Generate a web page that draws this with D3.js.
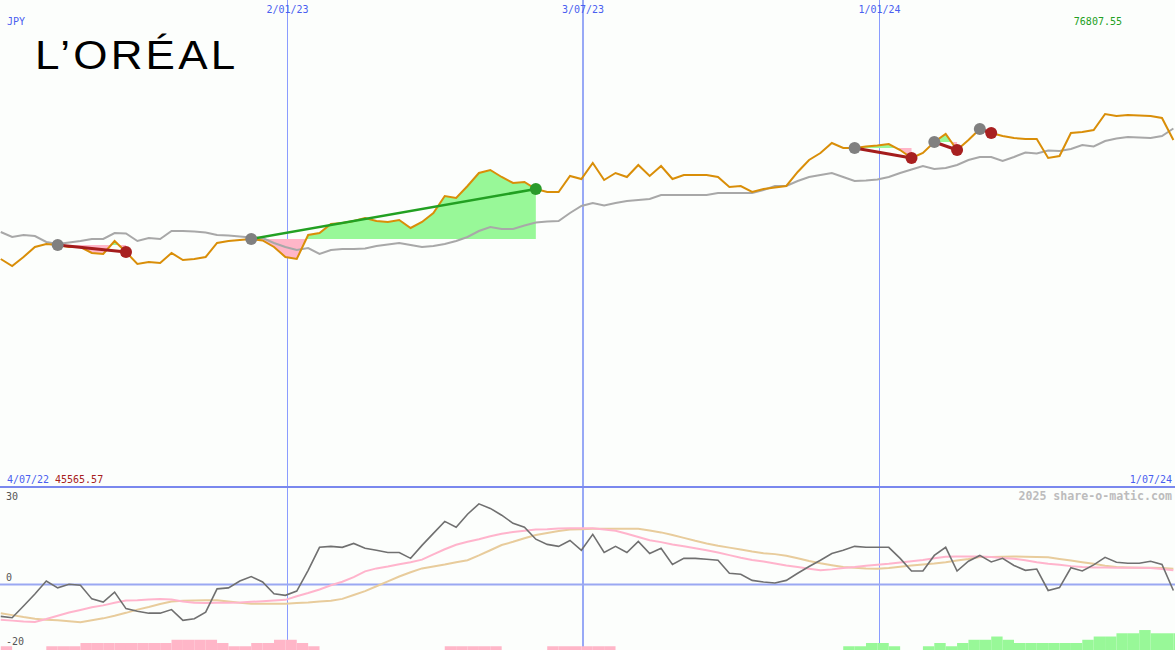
<!DOCTYPE html>
<html><head><meta charset="utf-8">
<script src="https://cdn.jsdelivr.net/npm/d3@7"></script>
<style>
html,body{margin:0;padding:0;background:#fcfefc;}
svg{display:block;}
</style></head>
<body>
<script>
// ---------- DATA ----------
const firstWeek = "2022-07-10";          // weekly closes, one per week
const price = [60192,59743,60321,60962,61155,61091,60962,60962,60577,60513,
61347,60641,59872,60000,59936,60577,60128,60192,60321,61219,
61347,61411,61475,61379,60962,60321,60192,61732,61860,62438,
62502,62630,62823,62630,62566,62694,62181,62566,63143,64234,
64106,64875,65709,65902,65453,65068,65132,64683,64491,64491,
65517,65325,66351,65260,65709,65453,66223,65517,66158,65325,
65581,65581,65581,65453,64811,64875,64491,64683,64779,64875,
65774,66543,66992,67634,67313,67313,67409,67474,67570,67185,
66672,66992,67698,68211,67185,67826,68532,68275,68083,67955,
67891,67891,66672,66800,68275,68340,68468,69494,69366,69430,
69398,69366,69238,67826];
const priceAvg = [61925,61604,61732,61668,61283,61155,61251,61347,61475,61475,
61860,61828,61347,61540,61475,61989,61989,61957,61893,61732,
61700,61636,61572,61540,61219,60962,60770,60898,60513,60770,
60834,60834,60866,61026,61123,61219,61091,60962,61026,61155,
61347,61604,61989,62245,62117,62117,62341,62534,62598,62630,
63143,63592,63785,63625,63785,63913,63977,64041,64298,64298,
64298,64298,64298,64426,64426,64426,64426,64619,64875,64875,
65196,65453,65581,65709,65453,65196,65228,65292,65453,65709,
65934,66158,65966,66030,66223,66543,66736,66736,66479,66736,
67025,66960,67153,67121,67249,67506,67409,67762,67923,68019,
67987,67955,68083,68564];
const osc = [-9.8,-10.2,-6.6,-2.9,1.1,-1.0,0.1,-0.2,-4.4,-5.4,
-2.3,-7.4,-8.2,-8.8,-8.8,-7.7,-11.0,-10.5,-8.5,-1.3,
-1.0,1.1,2.5,0.8,-2.8,-3.3,-2.0,4.4,11.5,11.8,
11.5,12.7,11.2,10.6,9.9,9.9,8.1,12.1,15.8,19.5,
17.7,21.7,24.9,23.5,21.4,18.9,17.7,14.0,12.4,11.8,
13.6,10.6,15.5,9.9,11.8,9.9,13.3,9.6,11.2,6.2,
8.1,8.1,7.8,7.5,3.5,3.2,1.3,0.8,0.5,1.3,
3.5,5.6,7.5,9.6,10.6,11.8,11.5,11.5,11.5,8.1,
4.2,4.2,9.0,11.5,4.2,7.2,9.0,7.0,8.1,5.9,
4.4,4.8,-1.8,-0.9,5.2,4.2,6.1,8.4,6.9,6.6,
6.6,7.2,6.2,-1.8];
const oscSignal = [-10.8,-11.1,-11.4,-11.5,-10.6,-9.6,-8.6,-7.8,-7.0,-6.4,
-5.6,-4.9,-4.8,-4.6,-4.4,-4.6,-5.2,-5.6,-5.7,-5.6,
-5.6,-5.5,-5.3,-5.1,-4.9,-4.7,-3.6,-2.6,-1.5,-0.2,
0.9,2.3,4.1,5.0,5.6,6.3,6.9,7.7,9.3,10.9,
12.3,13.2,14.0,14.9,15.7,16.2,16.6,17.0,17.1,17.3,
17.4,17.4,17.4,17.0,16.6,15.7,14.7,13.7,13.1,12.4,
11.8,11.2,10.6,9.9,9.1,8.3,7.6,7.1,6.5,5.9,
5.4,4.9,4.4,4.7,5.1,5.4,5.8,6.1,6.4,6.8,
7.2,7.6,8.1,8.6,8.7,8.7,8.7,8.5,8.2,8.0,
7.5,6.9,6.4,6.1,5.7,5.4,5.3,5.3,5.2,5.2,
5.2,5.1,4.8,4.4];
const oscSlow = [-8.8,-9.4,-10.0,-10.5,-10.8,-11.0,-11.3,-11.6,-11.0,-10.4,
-9.6,-8.7,-7.7,-6.9,-6.0,-5.2,-5.0,-4.9,-4.8,-4.8,
-5.2,-5.6,-5.9,-5.9,-5.9,-5.9,-5.7,-5.5,-5.2,-5.0,
-4.4,-3.2,-2.0,-0.5,1.0,2.5,3.8,5.0,5.6,6.2,
6.9,7.5,9.0,10.6,12.2,13.2,14.3,15.3,15.9,16.5,
17.0,17.1,17.2,17.2,17.2,17.2,17.2,16.7,16.1,15.3,
14.4,13.5,12.7,12.0,11.4,10.8,10.2,9.7,9.4,8.9,
8.1,7.3,6.6,6.0,5.4,5.2,5.0,4.9,5.1,5.5,
5.9,6.2,6.5,6.9,7.4,7.9,8.5,8.5,8.6,8.7,
8.6,8.5,8.4,7.9,7.4,6.9,6.4,5.8,5.4,5.3,
5.2,5.2,5.1,4.9];
const histo = [-1,0,0,0,-1,-1,-1,-2,-2,-2,
-2,-2,-2,-2,-2,-3,-3,-3,-3,-2,
-1,-1,-2,-2,-3,-3,-2,-1,0,0,
0,0,0,0,0,0,0,0,0,-1,
-1,-1,-1,-1,0,0,0,0,-1,-1,
-1,-1,-1,-1,0,0,0,0,0,0,
0,0,0,0,0,0,0,0,0,0,
0,0,0,0,1,1,2,2,1,0,
0,1,2,1,2,3,3,4,3,2,
2,2,2,2,2,3,4,4,5,5,
6,5,5,5];
const tradeEntry = [5, 22, 75, 82, 86];
const tradeExit  = [11, 47, 80, 84, 87];
const gridDates  = ["2023-01-02", "2023-07-03", "2024-01-01"];
const gridLabels = ["2/01/23", "3/07/23", "1/01/24"];
const startLabel = "4/07/22", endLabel = "1/07/24";
const priceMin = 45565.57, priceMax = 76807.55;
const oscTicks = [30, 0, -20];
const currency = "JPY";
const brand = "L’ORÉAL";
const credit = "2025 share-o-matic.com";

// ---------- LAYOUT ----------
const W = 1175, H = 650, splitY = 487;
const svg = d3.select("body").append("svg").attr("width", W).attr("height", H)
  .style("background", "#fcfefc");

const parse = d3.utcParse("%Y-%m-%d");
const d0 = parse(firstWeek);
const dates = price.map((_, i) => d3.utcDay.offset(d0, 7 * i));

const x = d3.scaleUtc().domain([parse("2022-07-04"), parse("2024-07-01")]).range([-9, 1175]);
const yP = d3.scaleLinear().domain([priceMin, priceMax]).range([splitY, 0]);
const yO = d3.scaleLinear().domain([-20, 30]).range([649.5, 487.3]);

const mono = "'DejaVu Sans Mono', 'Liberation Mono', monospace";
const GRID = "#8a9cff";

// vertical grid lines
gridDates.forEach((g, i) => {
  const gx = Math.round(x(parse(g))) + (i === 1 ? 0 : 0.5);
  svg.append("line").attr("x1", gx).attr("x2", gx).attr("y1", 0).attr("y2", H)
    .attr("stroke", i === 1 ? "#98a9f6" : GRID).attr("stroke-width", i === 1 ? 2 : 1)
    .attr("shape-rendering", "crispEdges");
  svg.append("text").attr("x", gx).attr("y", 13).attr("text-anchor", "middle")
    .attr("font-family", mono).attr("font-size", 10).attr("fill", "#4a5ef0").text(gridLabels[i]);
});

// separator & zero line
svg.append("line").attr("x1", 0).attr("x2", W).attr("y1", splitY).attr("y2", splitY)
  .attr("stroke", "#7a88ee").attr("stroke-width", 2);
svg.append("line").attr("x1", 0).attr("x2", W).attr("y1", yO(0)).attr("y2", yO(0))
  .attr("stroke", "#9aa8f2").attr("stroke-width", 2);

// ---------- histogram ----------
svg.append("g").selectAll("rect").data(histo.map((v, i) => ({v, i})).filter(d => d.v !== 0))
  .join("rect")
  .attr("x", d => x(dates[d.i]))
  .attr("width", d => x(d3.utcDay.offset(dates[d.i], 7)) - x(dates[d.i]))
  .attr("y", d => yO(-20 + Math.abs(d.v)))
  .attr("height", d => H - yO(-20 + Math.abs(d.v)))
  .attr("fill", d => d.v < 0 ? "#ffb6c8" : "#98f898");

// ---------- oscillator lines ----------
const lineO = arr => d3.line().x((d, i) => x(dates[i])).y(d => yO(d))(arr);
svg.append("path").attr("d", lineO(oscSlow)).attr("fill", "none").attr("stroke", "#e8cc9c").attr("stroke-width", 2);
svg.append("path").attr("d", lineO(oscSignal)).attr("fill", "none").attr("stroke", "#ffb4cc").attr("stroke-width", 2);
svg.append("path").attr("d", lineO(osc)).attr("fill", "none").attr("stroke", "#707070").attr("stroke-width", 1.6);

// ---------- trade fills ----------
const defs = svg.append("defs");
tradeEntry.forEach((e, t) => {
  const xEnd = tradeExit[t];
  const lvl = yP(price[e]);
  const idx = d3.range(e, xEnd + 1);
  const area = d3.area().x(i => x(dates[i])).y0(lvl).y1(i => yP(price[i]))(idx);
  defs.append("clipPath").attr("id", "up" + t).append("rect")
    .attr("x", 0).attr("y", 0).attr("width", W).attr("height", lvl);
  defs.append("clipPath").attr("id", "dn" + t).append("rect")
    .attr("x", 0).attr("y", lvl).attr("width", W).attr("height", splitY - lvl);
  svg.append("path").attr("d", area).attr("fill", "#98f898").attr("clip-path", `url(#up${t})`);
  svg.append("path").attr("d", area).attr("fill", "#ffb6c8").attr("clip-path", `url(#dn${t})`);
});

// ---------- price + average ----------
const lineP = arr => d3.line().x((d, i) => x(dates[i])).y(d => yP(d))(arr);
svg.append("path").attr("d", lineP(priceAvg)).attr("fill", "none").attr("stroke", "#a8a8a8").attr("stroke-width", 2);
svg.append("path").attr("d", lineP(price)).attr("fill", "none").attr("stroke", "#d98e08").attr("stroke-width", 2);

// ---------- trade lines and dots ----------
tradeEntry.forEach((e, t) => {
  const xi = tradeExit[t];
  const win = price[xi] > price[e];
  svg.append("line")
    .attr("x1", x(dates[e])).attr("y1", yP(price[e]))
    .attr("x2", x(dates[xi])).attr("y2", yP(price[xi]))
    .attr("stroke", win ? "#22a022" : "#a41c1c").attr("stroke-width", win ? 2.5 : 3);
  svg.append("circle").attr("cx", x(dates[e])).attr("cy", yP(price[e])).attr("r", 6)
    .attr("fill", "#808080");
  svg.append("circle").attr("cx", x(dates[xi])).attr("cy", yP(price[xi])).attr("r", 6)
    .attr("fill", win ? "#2a9a2a" : "#a82020");
});

// ---------- texts ----------
svg.append("text").attr("x", 7).attr("y", 25).attr("font-family", mono).attr("font-size", 10)
  .attr("fill", "#4a5ef0").text(currency);
svg.append("text").attr("x", 1122).attr("y", 25).attr("text-anchor", "end").attr("font-family", mono)
  .attr("font-size", 10).attr("fill", "#22a022").text(priceMax.toFixed(2));
svg.append("text").attr("x", 7).attr("y", 483).attr("font-family", mono).attr("font-size", 10)
  .attr("fill", "#4a5ef0").text(startLabel);
svg.append("text").attr("x", 55).attr("y", 483).attr("font-family", mono).attr("font-size", 10)
  .attr("fill", "#a82020").text(priceMin.toFixed(2));
svg.append("text").attr("x", 1172).attr("y", 483).attr("text-anchor", "end").attr("font-family", mono)
  .attr("font-size", 10).attr("fill", "#4a5ef0").text(endLabel);
svg.append("text").attr("x", 1172).attr("y", 500).attr("text-anchor", "end").attr("font-family", mono)
  .attr("font-size", 11.6).attr("font-weight", "bold").attr("fill", "#bcbcbc").text(credit);

const tickY = {30: 499.5, 0: 581, "-20": 645};
oscTicks.forEach(v => {
  svg.append("text").attr("x", 6).attr("y", tickY[v]).attr("font-family", mono).attr("font-size", 10)
    .attr("fill", "#555").text(String(v));
});

// logo
svg.append("text").attr("transform", "translate(35,68.5) scale(1.1,1)")
  .attr("font-family", "'Liberation Sans', Arial, sans-serif")
  .attr("font-size", 40).attr("fill", "#000").attr("textLength", 182).attr("lengthAdjust", "spacing")
  .text(brand);
</script>
</body></html>
